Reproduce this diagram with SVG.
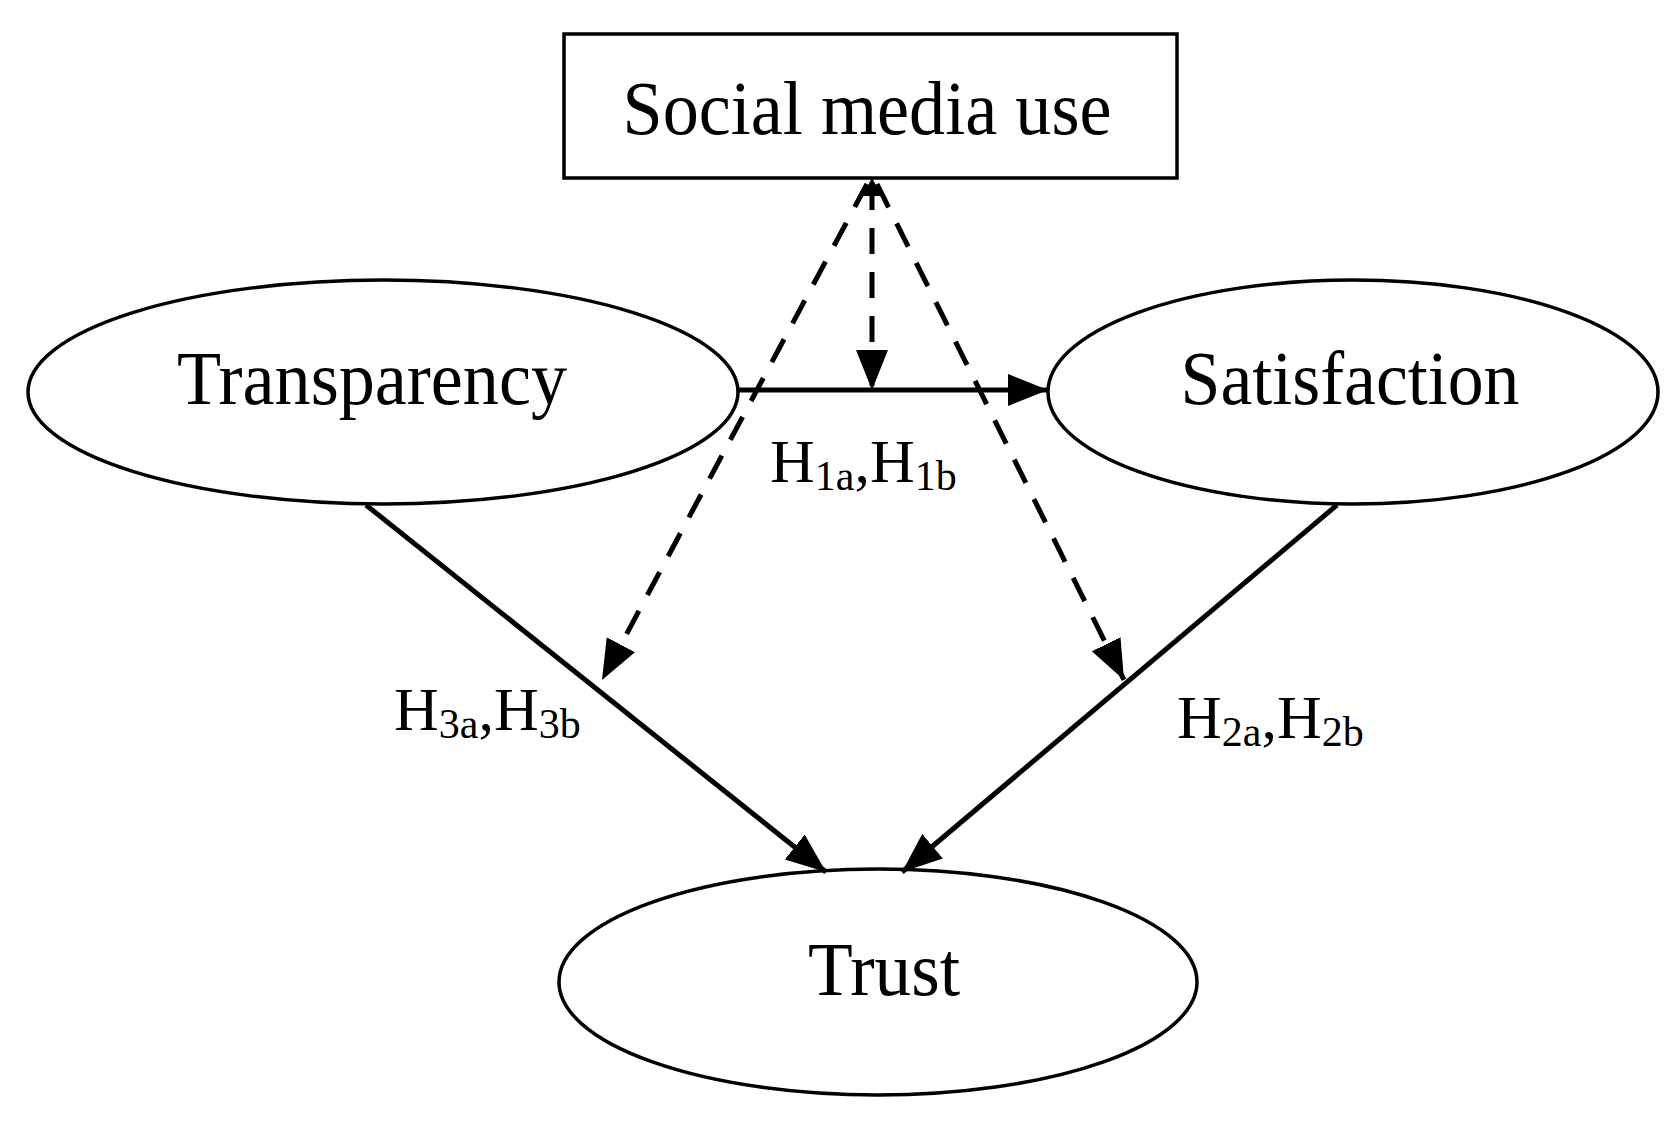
<svg xmlns="http://www.w3.org/2000/svg" width="1677" height="1129" viewBox="0 0 1677 1129">
<style>
.n{fill:#fff;stroke:#000;stroke-width:3.5}
.t{font-family:"Liberation Serif",serif;font-size:76px;fill:#000;text-anchor:middle}
.h{font-family:"Liberation Serif",serif;font-size:62px;fill:#000}
.s{font-size:42px}
.c{stroke:#000;stroke-width:5;fill:none}
.d{stroke-dasharray:26 18}
</style>
<defs><marker id="A" viewBox="0 0 10 10" refX="10" refY="5" markerWidth="40" markerHeight="40" markerUnits="userSpaceOnUse" orient="auto"><path d="M0,1L10,5L0,9z"/></marker></defs>
<g id="social"><rect class="n" x="564" y="34" width="613" height="144"/><text class="t" x="867" y="134" textLength="489" lengthAdjust="spacingAndGlyphs">Social media use</text></g>
<g id="transparency"><ellipse class="n" cx="383" cy="392" rx="355" ry="112"/><text class="t" x="372" y="404" textLength="390" lengthAdjust="spacingAndGlyphs">Transparency</text></g>
<g id="satisfaction"><ellipse class="n" cx="1353" cy="392" rx="305" ry="112"/><text class="t" x="1350" y="404" textLength="339" lengthAdjust="spacingAndGlyphs">Satisfaction</text></g>
<g id="trust"><ellipse class="n" cx="878" cy="982" rx="319" ry="113"/><text class="t" x="884" y="995" textLength="152" lengthAdjust="spacingAndGlyphs">Trust</text></g>
<g id="connectors">
<line class="c" x1="738" y1="390" x2="1048" y2="390" marker-end="url(#A)"/>
<line class="c d" x1="872" y1="184" x2="872" y2="390" marker-end="url(#A)"/>
<line class="c d" x1="867" y1="184" x2="602" y2="680" marker-end="url(#A)"/>
<line class="c d" x1="877" y1="184" x2="1124" y2="680" marker-end="url(#A)"/>
<path d="M872,178 L862,196 L882,196z"/>
<line class="c" x1="366" y1="505" x2="826" y2="872" marker-end="url(#A)"/>
<line class="c" x1="1337" y1="505" x2="902" y2="872" marker-end="url(#A)"/>
</g>
<text class="h" x="770" y="482">H<tspan class="s" dy="8">1a</tspan><tspan dy="-8">,H</tspan><tspan class="s" dy="8">1b</tspan></text>
<text class="h" x="394" y="730">H<tspan class="s" dy="8">3a</tspan><tspan dy="-8">,H</tspan><tspan class="s" dy="8">3b</tspan></text>
<text class="h" x="1177" y="738">H<tspan class="s" dy="8">2a</tspan><tspan dy="-8">,H</tspan><tspan class="s" dy="8">2b</tspan></text>
</svg>
